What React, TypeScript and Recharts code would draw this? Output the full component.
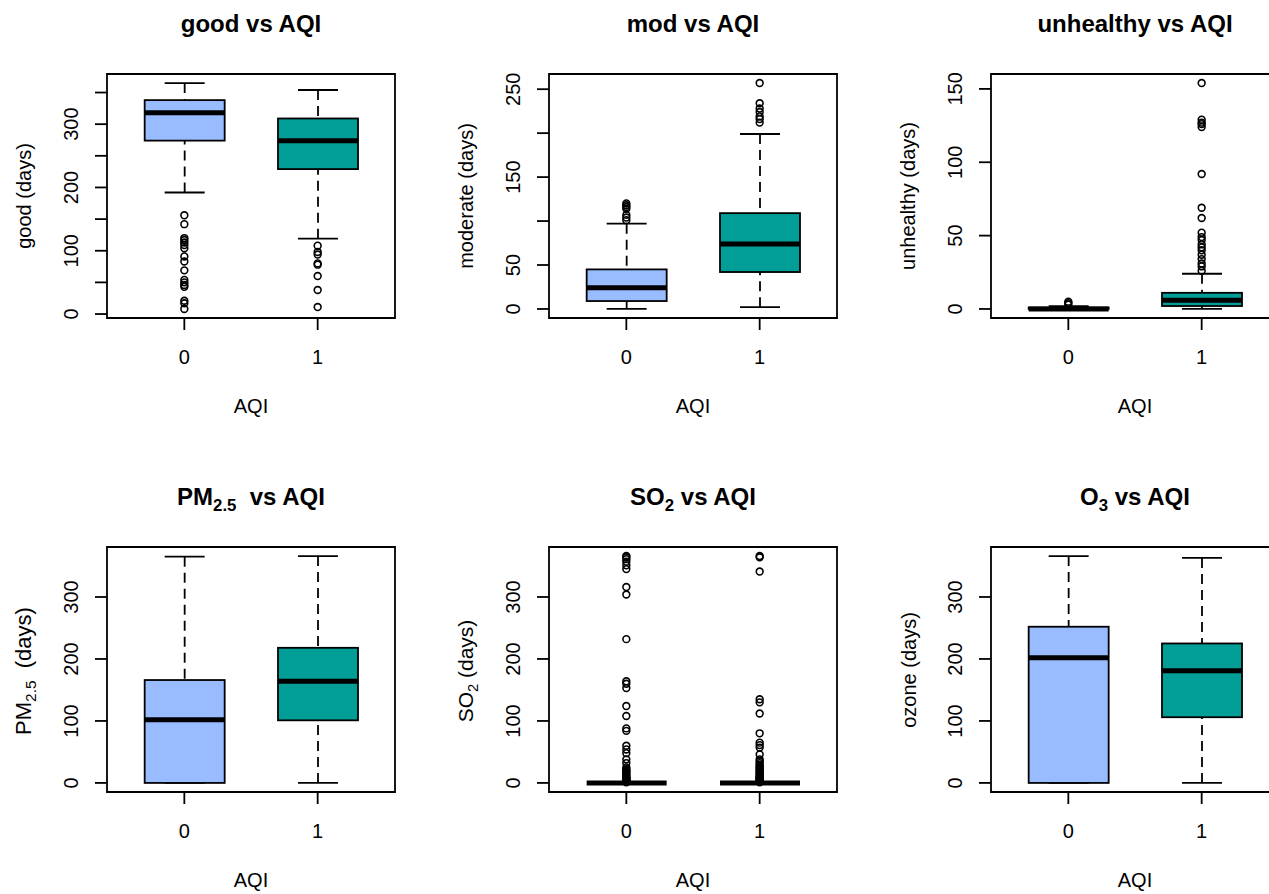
import React from "react";
import { ComposedChart, Bar, Scatter, XAxis, YAxis, ReferenceArea } from "recharts";

// groups on the x axis
const groups = ["0", "1"];
const groupX = [1, 2];
const fills = ["#99BBFF", "#009E96"];

// box stats per group: [lower whisker, Q1, median, Q3, upper whisker]
const goodStats = [
  [192, 274, 318, 338, 365],
  [119, 229, 274, 309, 354],
];
const goodOutliers = [
  [156, 142, 120, 117, 113, 109, 104, 91, 83, 69, 54, 50, 46, 43, 21, 17, 8],
  [108, 98, 94, 80, 78, 60, 38, 11],
];

const modStats = [
  [0, 9, 24, 45, 97],
  [2, 42, 74, 109, 199],
];
const modOutliers = [
  [120, 118, 116, 114, 107, 104, 101],
  [257, 234, 228, 224, 219, 216, 212],
];

const unhealthyStats = [
  [0, 0, 0, 1, 2],
  [0, 2, 6, 11, 24],
];
const unhealthyOutliers = [
  [3, 4, 5],
  [154, 129, 127, 126, 124, 92, 69, 62, 52, 49, 47, 44, 42, 40, 37, 34, 31, 29, 26],
];

const pmStats = [
  [0, 0, 102, 166, 365],
  [0, 101, 164, 218, 366],
];
const pmOutliers: number[][] = [[], []];

const so2Stats = [
  [0, 0, 0, 0, 0],
  [0, 0, 0, 0, 0],
];
const so2Outliers = [
  [366, 364, 361, 357, 351, 345, 316, 304, 232, 164, 160, 153, 124, 108, 88, 84, 60, 54, 48, 38, 32,
    25, 22, 20, 18, 16, 14, 12, 10, 8, 7, 6, 5, 4, 3, 2, 1],
  [366, 364, 341, 135, 130, 112, 80, 65, 61, 57, 46, 38, 35, 32, 29, 27, 25, 23, 21, 19, 17, 15, 13,
    11, 10, 9, 8, 7, 6, 5, 4, 3, 2, 1],
];

const ozoneStats = [
  [0, 0, 202, 252, 366],
  [0, 106, 181, 225, 363],
];
const ozoneOutliers: number[][] = [[], []];

// y ticks and which of them carry a label
const ticks50to350 = [0, 50, 100, 150, 200, 250, 300, 350];
const ticks50to250 = [0, 50, 100, 150, 200, 250];
const ticks50to150 = [0, 50, 100, 150];
const ticks100to300 = [0, 100, 200, 300];

const FONT = '"Liberation Sans", Arial, Helvetica, sans-serif';
const LEFT = 107;
const TOP = 74;
const RIGHT = 20;
const BOTTOM = 110;
const PLOT_W = 288;
const BOX_W = 80;
const LW = 1.8;
// R: xlim c(0.5, 2.5) plus 4% each side
const X_DOMAIN: [number, number] = [0.42, 2.58];

const colLeft = [107, 549, 991];
const rowTop = [74, 547];
const rowH = [244, 245];

const Sub = ({ children }: { children: React.ReactNode }) => (
  <span style={{ fontSize: "0.7em", position: "relative", top: "0.35em" }}>{children}</span>
);

interface PanelDef {
  title: React.ReactNode;
  ylab: React.ReactNode;
  ylabSize?: number;
  stats: number[][];
  outliers: number[][];
  ticks: number[];
  labeled: number[];
  col: number;
  row: number;
}

const panels: PanelDef[] = [
  { title: "good vs AQI", ylab: "good (days)", stats: goodStats, outliers: goodOutliers, ticks: ticks50to350, labeled: [0, 100, 200, 300], col: 0, row: 0 },
  { title: "mod vs AQI", ylab: "moderate (days)", stats: modStats, outliers: modOutliers, ticks: ticks50to250, labeled: [0, 50, 150, 250], col: 1, row: 0 },
  { title: "unhealthy vs AQI", ylab: "unhealthy (days)", stats: unhealthyStats, outliers: unhealthyOutliers, ticks: ticks50to150, labeled: ticks50to150, col: 2, row: 0 },
  {
    title: <>PM<Sub>2.5</Sub>{"\u00a0\u00a0"}vs AQI</>,
    ylab: <>PM<Sub>2.5</Sub>{"\u00a0\u00a0"}(days)</>,
    ylabSize: 22,
    stats: pmStats, outliers: pmOutliers, ticks: ticks100to300, labeled: ticks100to300, col: 0, row: 1,
  },
  {
    title: <>SO<Sub>2</Sub> vs AQI</>,
    ylab: <>SO<Sub>2</Sub> (days)</>,
    ylabSize: 21,
    stats: so2Stats, outliers: so2Outliers, ticks: ticks100to300, labeled: ticks100to300, col: 1, row: 1,
  },
  {
    title: <>O<Sub>3</Sub> vs AQI</>,
    ylab: "ozone (days)",
    stats: ozoneStats, outliers: ozoneOutliers, ticks: ticks100to300, labeled: ticks100to300, col: 2, row: 1,
  },
];

// draws whiskers, box and median inside the bar's range
const BoxShape = (props: any) => {
  const { x, y, width, height, payload } = props;
  if (!payload || height == null) return <g />;
  const [lo, hi] = payload.span;
  const py = (v: number) => (hi === lo ? y : y + (height * (hi - v)) / (hi - lo));
  const cx = x + width / 2;
  const [wl, q1, med, q3, wh] = payload.stats;
  const capHalf = BOX_W / 4;
  return (
    <g>
      <line x1={cx} x2={cx} y1={py(wh)} y2={py(q3)} stroke="#000" strokeWidth={LW} strokeDasharray="10 6" />
      <line x1={cx} x2={cx} y1={py(wl)} y2={py(q1)} stroke="#000" strokeWidth={LW} strokeDasharray="10 6" />
      <line x1={cx - capHalf} x2={cx + capHalf} y1={py(wh)} y2={py(wh)} stroke="#000" strokeWidth={LW} />
      <line x1={cx - capHalf} x2={cx + capHalf} y1={py(wl)} y2={py(wl)} stroke="#000" strokeWidth={LW} />
      <rect x={x} y={py(q3)} width={width} height={py(q1) - py(q3)} fill={payload.fill} stroke="#000" strokeWidth={LW} />
      <line x1={x} x2={x + width} y1={py(med)} y2={py(med)} stroke="#000" strokeWidth={5} />
    </g>
  );
};

const OutlierDot = (props: any) => {
  const { cx, cy } = props;
  if (cx == null || cy == null) return <g />;
  return <circle cx={cx} cy={cy} r={3.4} fill="none" stroke="#000" strokeWidth={1.6} />;
};

const makeYTick = (labeled: number[]) => (props: any) => {
  const { x, y, payload } = props;
  if (!labeled.includes(payload.value)) return <g />;
  return (
    <text x={x} y={y} transform={`rotate(-90, ${x}, ${y})`} textAnchor="middle" fontSize={20} fill="#000">
      {payload.value}
    </text>
  );
};

function Panel({ p }: { p: PanelDef }) {
  const plotH = rowH[p.row];
  const all = [...p.stats.flat(), ...p.outliers.flat()];
  const lo = Math.min(...all);
  const hi = Math.max(...all);
  const pad = (hi - lo) * 0.04;
  const domain: [number, number] = [lo - pad, hi + pad];

  const rows = groups.map((g, i) => {
    const vals = [...p.stats[i], ...p.outliers[i]];
    return { x: groupX[i], group: g, span: [Math.min(...vals), Math.max(...vals)], stats: p.stats[i], fill: fills[i] };
  });
  const outPts = p.outliers.flatMap((arr, i) => arr.map((v) => ({ x: groupX[i], y: v })));

  const left = colLeft[p.col] - LEFT;
  const top = rowTop[p.row] - TOP;
  const w = LEFT + PLOT_W + RIGHT;
  const h = TOP + plotH + BOTTOM;

  return (
    <div style={{ position: "absolute", left, top, width: w, height: h }}>
      <ComposedChart width={w} height={h} data={rows} margin={{ top: TOP, right: RIGHT, bottom: 0, left: 0 }}>
        <XAxis
          dataKey="x"
          type="number"
          domain={X_DOMAIN}
          allowDataOverflow
          ticks={groupX}
          tickFormatter={(v: number) => groups[groupX.indexOf(v)]}
          axisLine={false}
          tickSize={12}
          tickMargin={20}
          tickLine={{ stroke: "#000", strokeWidth: LW }}
          tick={{ fontSize: 20, fill: "#000" }}
          height={BOTTOM}
        />
        <YAxis
          type="number"
          domain={domain}
          allowDataOverflow
          ticks={p.ticks}
          interval={0}
          axisLine={false}
          tickSize={12}
          tickMargin={17}
          tickLine={{ stroke: "#000", strokeWidth: LW }}
          tick={makeYTick(p.labeled)}
          width={LEFT}
        />
        <ReferenceArea x1={X_DOMAIN[0]} x2={X_DOMAIN[1]} y1={domain[0]} y2={domain[1]} fill="none" fillOpacity={0} stroke="#000" strokeWidth={LW} />
        <Bar dataKey="span" barSize={BOX_W} shape={BoxShape} isAnimationActive={false} />
        <Scatter data={outPts} dataKey="y" shape={OutlierDot} isAnimationActive={false} />
      </ComposedChart>
      <div
        style={{
          position: "absolute", left: LEFT, width: PLOT_W, top: 10, lineHeight: "28px",
          textAlign: "center", fontSize: 24, fontWeight: "bold", whiteSpace: "nowrap",
        }}
      >
        {p.title}
      </div>
      <div
        style={{
          position: "absolute", left: LEFT, width: PLOT_W, top: TOP + plotH + 76, lineHeight: "24px",
          textAlign: "center", fontSize: 20,
        }}
      >
        AQI
      </div>
      <div
        style={{
          position: "absolute", left: 24 - plotH / 2, width: plotH, top: TOP + plotH / 2 - 14, lineHeight: "28px",
          textAlign: "center", fontSize: p.ylabSize || 20, transform: "rotate(-90deg)", whiteSpace: "nowrap",
        }}
      >
        {p.ylab}
      </div>
    </div>
  );
}

export default function App() {
  return (
    <div
      style={{
        position: "absolute", left: 0, top: 0, width: 1269, height: 894, overflow: "hidden",
        background: "#fff", fontFamily: FONT, color: "#000",
      }}
    >
      {panels.map((p, i) => (
        <Panel key={i} p={p} />
      ))}
    </div>
  );
}
